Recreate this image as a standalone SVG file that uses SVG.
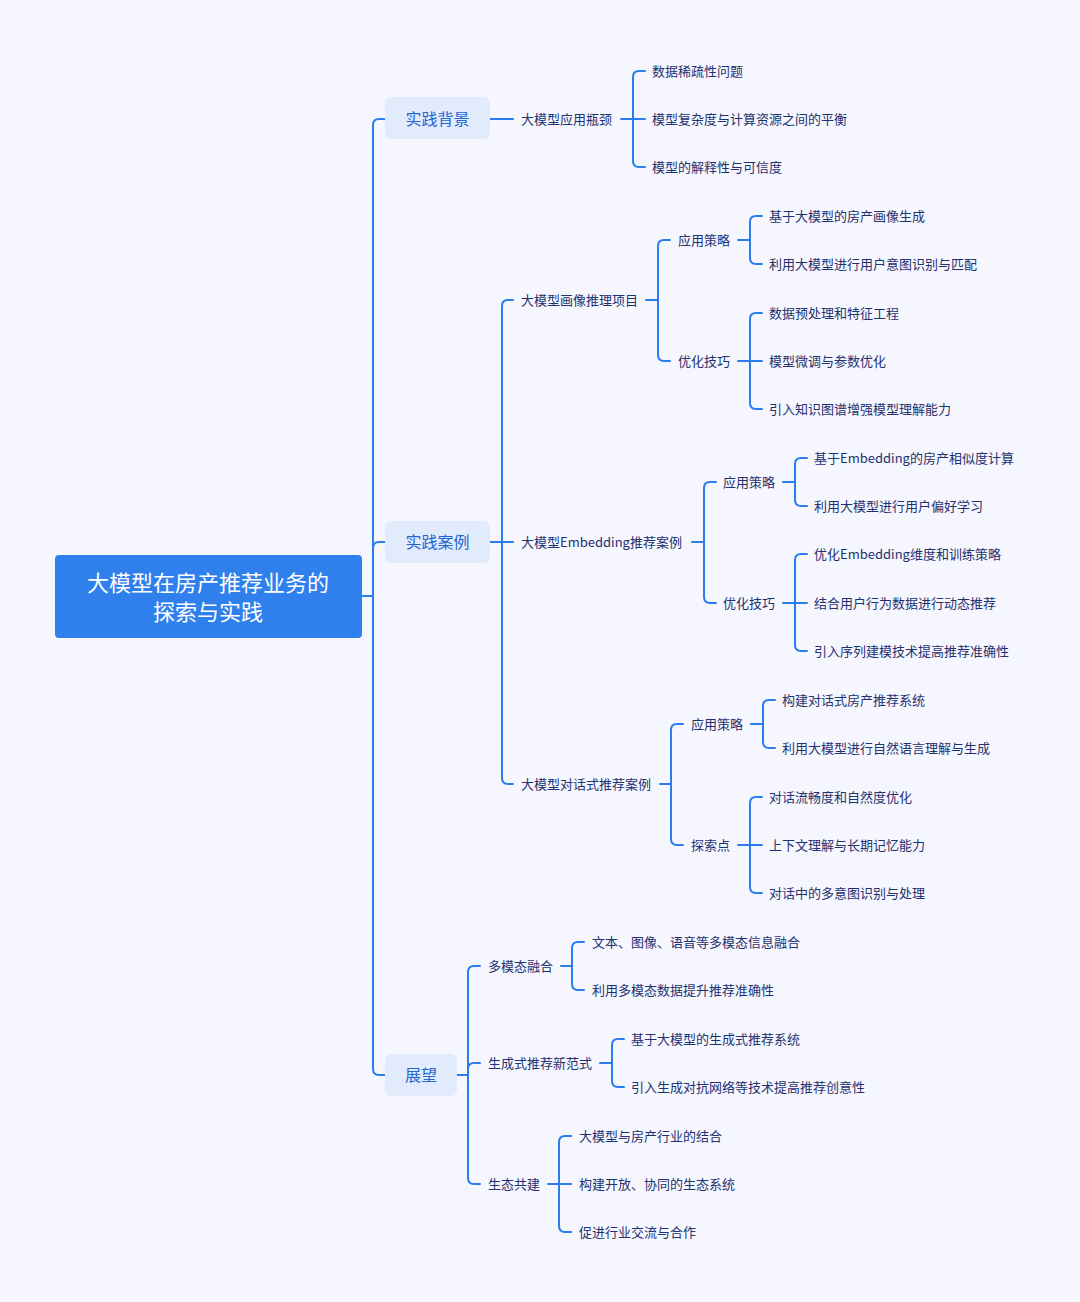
<svg xmlns="http://www.w3.org/2000/svg" width="1080" height="1302" viewBox="0 0 1080 1302">
<style>
.bg{fill:#F5F6FE}
.root{fill:#2F80ED}
.l1{fill:#E2EBFC}
.rt{font-family:"Noto Sans CJK SC","Noto Sans",sans-serif;font-size:22px;fill:#FFFFFF;text-anchor:middle;dominant-baseline:central}
.t1{font-family:"Noto Sans CJK SC","Noto Sans",sans-serif;font-size:16px;fill:#2366D4;text-anchor:middle;dominant-baseline:central}
.t{font-family:"Noto Sans CJK SC","Noto Sans",sans-serif;font-size:13px;fill:#1F3170;dominant-baseline:central}
.c{fill:none;stroke:#2A7DEC;stroke-width:2;stroke-linecap:round;stroke-linejoin:round}
</style>
<rect class="bg" x="0" y="0" width="1080" height="1302"/>
<g id="connectors">
<path class="c" d="M362,596 H373"/>
<path class="c" d="M373,596 V125 Q373,119 379,119 H385"/>
<path class="c" d="M373,596 V548 Q373,542 379,542 H385"/>
<path class="c" d="M373,596 V1069 Q373,1075 379,1075 H385"/>
<path class="c" d="M490,119 H513"/>
<path class="c" d="M621,119 H633"/>
<path class="c" d="M633,119 V77 Q633,71 639,71 H645"/>
<path class="c" d="M633,119 H645"/>
<path class="c" d="M633,119 V161 Q633,167 639,167 H645"/>
<path class="c" d="M490,542 H502"/>
<path class="c" d="M502,542 V306 Q502,300 508,300 H513"/>
<path class="c" d="M502,542 H513"/>
<path class="c" d="M502,542 V778 Q502,784 508,784 H513"/>
<path class="c" d="M646,300 H658"/>
<path class="c" d="M658,300 V246 Q658,240 664,240 H670"/>
<path class="c" d="M658,300 V355 Q658,361 664,361 H670"/>
<path class="c" d="M738,240 H750"/>
<path class="c" d="M750,240 V222 Q750,216 756,216 H762"/>
<path class="c" d="M750,240 V258 Q750,264 756,264 H762"/>
<path class="c" d="M738,361 H750"/>
<path class="c" d="M750,361 V319 Q750,313 756,313 H762"/>
<path class="c" d="M750,361 H762"/>
<path class="c" d="M750,361 V403 Q750,409 756,409 H762"/>
<path class="c" d="M692,542 H704"/>
<path class="c" d="M704,542 V488 Q704,482 710,482 H716"/>
<path class="c" d="M704,542 V597 Q704,603 710,603 H716"/>
<path class="c" d="M783,482 H795"/>
<path class="c" d="M795,482 V464 Q795,458 801,458 H807"/>
<path class="c" d="M795,482 V500 Q795,506 801,506 H807"/>
<path class="c" d="M783,603 H795"/>
<path class="c" d="M795,603 V560 Q795,554 801,554 H807"/>
<path class="c" d="M795,603 H807"/>
<path class="c" d="M795,603 V645 Q795,651 801,651 H807"/>
<path class="c" d="M660,784 H671"/>
<path class="c" d="M671,784 V730 Q671,724 677,724 H683"/>
<path class="c" d="M671,784 V839 Q671,845 677,845 H683"/>
<path class="c" d="M751,724 H763"/>
<path class="c" d="M763,724 V706 Q763,700 769,700 H775"/>
<path class="c" d="M763,724 V742 Q763,748 769,748 H775"/>
<path class="c" d="M738,845 H750"/>
<path class="c" d="M750,845 V803 Q750,797 756,797 H762"/>
<path class="c" d="M750,845 H762"/>
<path class="c" d="M750,845 V887 Q750,893 756,893 H762"/>
<path class="c" d="M457,1075 H468"/>
<path class="c" d="M468,1075 V972 Q468,966 474,966 H480"/>
<path class="c" d="M468,1075 V1069 Q468,1063 474,1063 H480"/>
<path class="c" d="M468,1075 V1178 Q468,1184 474,1184 H480"/>
<path class="c" d="M561,966 H572"/>
<path class="c" d="M572,966 V948 Q572,942 578,942 H584"/>
<path class="c" d="M572,966 V984 Q572,990 578,990 H584"/>
<path class="c" d="M600,1063 H612"/>
<path class="c" d="M612,1063 V1045 Q612,1039 618,1039 H624"/>
<path class="c" d="M612,1063 V1081 Q612,1087 618,1087 H624"/>
<path class="c" d="M548,1184 H559"/>
<path class="c" d="M559,1184 V1142 Q559,1136 565,1136 H571"/>
<path class="c" d="M559,1184 H571"/>
<path class="c" d="M559,1184 V1226 Q559,1232 565,1232 H571"/>
</g>
<g id="root">
<rect class="root" x="55" y="555" width="307" height="83" rx="4"/>
<text class="rt" x="208" y="581">大模型在房产推荐业务的</text>
<text class="rt" x="208" y="610">探索与实践</text>
</g>
<g id="n-bg">
<rect class="l1" x="385" y="97" width="105" height="42" rx="6"/>
<text class="t1" x="437.5" y="118">实践背景</text>
</g>
<g id="n-case">
<rect class="l1" x="385" y="521" width="105" height="42" rx="6"/>
<text class="t1" x="437.5" y="541">实践案例</text>
</g>
<g id="n-outlook">
<rect class="l1" x="385" y="1054" width="72" height="42" rx="6"/>
<text class="t1" x="421" y="1074">展望</text>
</g>
<g id="n-bottleneck"><text class="t" x="521" y="118">大模型应用瓶颈</text></g>
<g id="n-b1"><text class="t" x="652" y="70">数据稀疏性问题</text></g>
<g id="n-b2"><text class="t" x="652" y="118">模型复杂度与计算资源之间的平衡</text></g>
<g id="n-b3"><text class="t" x="652" y="166">模型的解释性与可信度</text></g>
<g id="n-portrait"><text class="t" x="521" y="299">大模型画像推理项目</text></g>
<g id="n-p-strategy"><text class="t" x="678" y="239">应用策略</text></g>
<g id="n-p-s1"><text class="t" x="769" y="215">基于大模型的房产画像生成</text></g>
<g id="n-p-s2"><text class="t" x="769" y="263">利用大模型进行用户意图识别与匹配</text></g>
<g id="n-p-opt"><text class="t" x="678" y="360">优化技巧</text></g>
<g id="n-p-o1"><text class="t" x="769" y="312">数据预处理和特征工程</text></g>
<g id="n-p-o2"><text class="t" x="769" y="360">模型微调与参数优化</text></g>
<g id="n-p-o3"><text class="t" x="769" y="408">引入知识图谱增强模型理解能力</text></g>
<g id="n-emb"><text class="t" x="521" y="541">大模型Embedding推荐案例</text></g>
<g id="n-e-strategy"><text class="t" x="723" y="481">应用策略</text></g>
<g id="n-e-s1"><text class="t" x="814" y="457">基于Embedding的房产相似度计算</text></g>
<g id="n-e-s2"><text class="t" x="814" y="505">利用大模型进行用户偏好学习</text></g>
<g id="n-e-opt"><text class="t" x="723" y="602">优化技巧</text></g>
<g id="n-e-o1"><text class="t" x="814" y="553">优化Embedding维度和训练策略</text></g>
<g id="n-e-o2"><text class="t" x="814" y="602">结合用户行为数据进行动态推荐</text></g>
<g id="n-e-o3"><text class="t" x="814" y="650">引入序列建模技术提高推荐准确性</text></g>
<g id="n-dlg"><text class="t" x="521" y="783">大模型对话式推荐案例</text></g>
<g id="n-d-strategy"><text class="t" x="691" y="723">应用策略</text></g>
<g id="n-d-s1"><text class="t" x="782" y="699">构建对话式房产推荐系统</text></g>
<g id="n-d-s2"><text class="t" x="782" y="747">利用大模型进行自然语言理解与生成</text></g>
<g id="n-d-explore"><text class="t" x="691" y="844">探索点</text></g>
<g id="n-d-x1"><text class="t" x="769" y="796">对话流畅度和自然度优化</text></g>
<g id="n-d-x2"><text class="t" x="769" y="844">上下文理解与长期记忆能力</text></g>
<g id="n-d-x3"><text class="t" x="769" y="892">对话中的多意图识别与处理</text></g>
<g id="n-mm"><text class="t" x="488" y="965">多模态融合</text></g>
<g id="n-mm1"><text class="t" x="592" y="941">文本、图像、语音等多模态信息融合</text></g>
<g id="n-mm2"><text class="t" x="592" y="989">利用多模态数据提升推荐准确性</text></g>
<g id="n-gen"><text class="t" x="488" y="1062">生成式推荐新范式</text></g>
<g id="n-gen1"><text class="t" x="631" y="1038">基于大模型的生成式推荐系统</text></g>
<g id="n-gen2"><text class="t" x="631" y="1086">引入生成对抗网络等技术提高推荐创意性</text></g>
<g id="n-eco"><text class="t" x="488" y="1183">生态共建</text></g>
<g id="n-eco1"><text class="t" x="579" y="1135">大模型与房产行业的结合</text></g>
<g id="n-eco2"><text class="t" x="579" y="1183">构建开放、协同的生态系统</text></g>
<g id="n-eco3"><text class="t" x="579" y="1231">促进行业交流与合作</text></g>
</svg>
